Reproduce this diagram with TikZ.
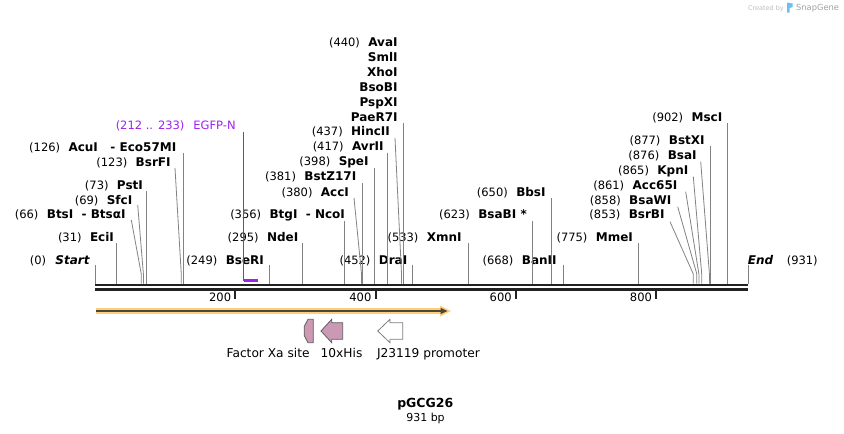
\documentclass[tikz,border=0pt]{standalone}
\usepackage{fontspec}
\setmainfont{DejaVu Sans}
\definecolor{conngray}{RGB}{130,130,130}
\definecolor{bbcol}{RGB}{34,34,34}
\definecolor{egfp}{RGB}{160,32,240}
\definecolor{featpink}{RGB}{204,153,180}
\definecolor{featedge}{RGB}{95,95,95}
\definecolor{orangehalo}{RGB}{255,207,120}
\definecolor{arrowdark}{RGB}{78,70,62}
\definecolor{logogray}{RGB}{190,190,190}
\definecolor{logoblue}{RGB}{110,190,240}
\tikzset{
  enzname/.style={font=\bfseries\fontsize{12}{14}\selectfont, inner sep=0pt, anchor=base east},
  enznum/.style={font=\fontsize{11.5}{14}\selectfont, inner sep=0pt, anchor=base east},
  conn/.style={draw=conngray, line width=0.8pt},
  backbone/.style={draw=bbcol, line width=2.6pt},
  tickmark/.style={draw=bbcol, line width=2pt},
  ticklab/.style={font=\fontsize{11.5}{14}\selectfont, inner sep=0pt, anchor=base east},
  featlab/.style={font=\fontsize{12.2}{14}\selectfont, inner sep=0pt, anchor=base west},
  featshape/.style={fill=featpink, draw=featedge, line width=0.8pt, line join=miter},
}
\newcommand\EnzLab[5]{%
  \node[enzname] (#1) at (#2+0.8,#3+4.4) {#5};
  \node[enznum] (#1n) at ([xshift=-8pt]#1.base west) {(#4)};}
\newcommand\VConn[3]{%
  \coordinate (#1t) at (#2,#3); \coordinate (#1s) at (#2,283.7);
  \draw[conn] (#1t) -- (#1s);}
\newcommand\SConn[4]{%
  \coordinate (#1t) at (#2,#3); \coordinate (#1b) at (#4,274); \coordinate (#1s) at (#4,283.7);
  \draw[conn] (#1t) -- (#1b) -- (#1s);}
\begin{document}
\begin{tikzpicture}[x=1pt,y=-1pt]
\useasboundingbox[fill=white] (0,0) rectangle (844,434);

% ---- logo
\node[font=\fontsize{6.5}{8}\selectfont, text=logogray, inner sep=0pt, anchor=base east] (cby) at (784,10) {Created by};
\fill[logoblue] (787,2.5) -- (792.5,3.5) -- (792.5,7) -- (789.5,8) -- (789.5,12.5) -- (787,12.5) -- cycle;
\node[font=\fontsize{8.3}{10}\selectfont, text=logogray!85!black, inner sep=0pt, anchor=base west] (sg) at (796,10.5) {SnapGene};

% ---- enzyme labels
\node[enzname, font=\bfseries\itshape\fontsize{12}{14}\selectfont] (start) at (89.8,264.4) {Start};
\node[enznum] (startn) at ([xshift=-9pt]start.base west) {(0)};
\EnzLab{eci}{113.3}{237}{31}{EciI}
\EnzLab{bts}{125}{214}{66}{BtsI\ \ - BtsαI}
\EnzLab{sfc}{131.7}{200}{69}{SfcI}
\EnzLab{pst}{142.3}{185}{73}{PstI}
\EnzLab{bsrf}{170}{162}{123}{BsrFI}
\EnzLab{acu}{175.7}{147}{126}{AcuI\ \ \ - Eco57MI}
\node[enznum, text=egfp] (egfp) at (235.8,129.3) {EGFP-N};
\node[enznum, text=egfp] (egfpn) at ([xshift=-8.5pt]egfp.base west) {(212 .. 233)};
\EnzLab{bser}{263.3}{260}{249}{BseRI}
\EnzLab{nde}{297.7}{237}{295}{NdeI}
\EnzLab{btg}{344.3}{214}{356}{BtgI\ \ - NcoI}
\EnzLab{acc}{348.3}{192}{380}{AccI}
\EnzLab{bstz}{355.7}{176}{381}{BstZ17I}
\EnzLab{spe}{368}{161}{398}{SpeI}
\EnzLab{avr}{383}{146}{417}{AvrII}
\EnzLab{hinc}{389.3}{131}{437}{HincII}
\EnzLab{ava}{397}{42}{440}{AvaI}
\node[enzname] (sml) at (397.8,61.4) {SmlI};
\node[enzname] (xho) at (397.8,76.4) {XhoI};
\node[enzname] (bso) at (397.8,91.4) {BsoBI};
\node[enzname] (psp) at (397.8,106.4) {PspXI};
\node[enzname] (pae) at (397.8,121.4) {PaeR7I};
\EnzLab{dra}{406.7}{260}{452}{DraI}
\EnzLab{xmn}{461}{237}{533}{XmnI}
\EnzLab{bsab}{526.2}{214}{623}{BsaBI *}
\EnzLab{bbs}{545}{192}{650}{BbsI}
\EnzLab{ban}{556}{260}{668}{BanII}
\EnzLab{mme}{632.3}{237}{775}{MmeI}
\EnzLab{bsrb}{664}{214}{853}{BsrBI}
\EnzLab{bsaw}{670.7}{200}{858}{BsaWI}
\EnzLab{acc65}{676.7}{185}{861}{Acc65I}
\EnzLab{kpn}{687.7}{170}{865}{KpnI}
\EnzLab{bsa}{696}{155}{876}{BsaI}
\EnzLab{bstx}{704}{140}{877}{BstXI}
\EnzLab{msc}{721.7}{117}{902}{MscI}
\node[enzname, anchor=base west, font=\bfseries\itshape\fontsize{12}{14}\selectfont] (endl) at (747.6,264.4) {End};
\node[enznum, anchor=base west] (endn) at (786.6,264.4) {(931)};

% ---- connectors
\VConn{start}{95}{265}
\VConn{eci}{116.74}{243}
\SConn{bts}{131.3}{220}{141.29}
\SConn{sfc}{137.7}{205}{143.40}
\VConn{pst}{146.20}{191}
\SConn{bsrf}{175}{168}{181.27}
\VConn{acu}{183.38}{153}
\VConn{bser}{269.65}{265}
\VConn{nde}{301.91}{243}
\VConn{btg}{344.70}{221}
\SConn{acc}{354}{198}{361.54}
\VConn{bstz}{362.23}{183}
\VConn{spe}{374.16}{168}
\VConn{avr}{387.48}{153}
\SConn{hinc}{395}{138}{401.51}
\VConn{ava}{403.61}{123}
\VConn{dra}{412.03}{265}
\VConn{xmn}{468.85}{243}
\VConn{bsab}{531.97}{221}
\VConn{bbs}{550.91}{198}
\VConn{ban}{563.53}{265}
\VConn{mme}{638.58}{243}
\SConn{bsrb}{670}{221.7}{693.29}
\SConn{bsaw}{677.7}{206.7}{696.80}
\SConn{acc65}{685.7}{191.7}{698.90}
\SConn{kpn}{693.3}{176.7}{701.71}
\SConn{bsa}{700.7}{161.7}{709.42}
\VConn{bstx}{710.12}{146}
\VConn{msc}{727.66}{123}
\VConn{endc}{748}{265}

% EGFP-N marker
\coordinate (egfpt) at (243.7,131.5);
\coordinate (egfpa) at (243.7,280.5);
\coordinate (egfpb) at (258.4,280.5);
\draw[egfp, line width=0.9pt] (egfpt) -- (egfpa);
\draw[egfp, line width=2.2pt] (egfpa) -- (egfpb);

% ---- backbone
\coordinate (bbL1) at (95,285); \coordinate (bbR1) at (748,285);
\coordinate (bbL2) at (95,289.4); \coordinate (bbR2) at (748,289.4);
\draw[backbone] (bbL1) -- (bbR1);
\draw[backbone] (bbL2) -- (bbR2);

% ticks
\foreach \tx/\tl in {235.28/200, 375.56/400, 515.84/600, 656.12/800}{
  \draw[tickmark] (\tx,290) -- (\tx,299);
  \node[ticklab] (tick\tl) at (\tx-4,301.5) {\tl};
}

% ---- orange feature arrow
\coordinate (fa) at (96,311);
\coordinate (fb) at (444,311);
\draw[orangehalo, line width=6pt] (fa) -- (fb);
\fill[orangehalo] (440,305.5) -- (451,311) -- (440,316.5) -- cycle;
\draw[arrowdark, line width=2pt] (fa) -- (442,311);
\fill[arrowdark] (440.5,307.8) -- (447.5,311) -- (440.5,314.2) -- cycle;

% ---- small features
\draw[featshape] (313.3,319.3) -- (308,319.3) -- (304.2,326.5) -- (304.2,335.5) -- (308,342.7) -- (313.3,342.7) -- cycle;
\draw[featshape] (321,331) -- (331.7,319.3) -- (331.7,322.7) -- (342.7,322.7) -- (342.7,339.3) -- (331.7,339.3) -- (331.7,342.7) -- cycle;
\draw[featshape, fill=white, draw=featedge!80] (377.7,331) -- (390,319.3) -- (390,322.7) -- (402.7,322.7) -- (402.7,339.3) -- (390,339.3) -- (390,342.7) -- cycle;
\node[featlab, anchor=base east] (fxa) at (309.8,357) {Factor Xa site};
\node[featlab] (his) at (320.5,357) {10xHis};
\node[featlab] (j23) at (376.8,357) {J23119 promoter};

% ---- title
\node[font=\bfseries\fontsize{12.5}{14}\selectfont, inner sep=0pt, anchor=base] (title) at (425.3,407.5) {pGCG26};
\node[font=\fontsize{11}{13}\selectfont, inner sep=0pt, anchor=base] (bp) at (425.5,421.5) {931 bp};
\end{tikzpicture}
\end{document}
